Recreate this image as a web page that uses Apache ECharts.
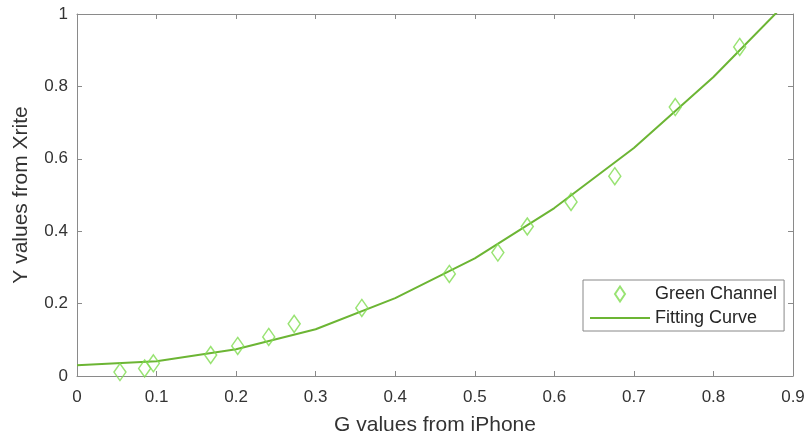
<!DOCTYPE html>
<html>
<head>
<meta charset="utf-8">
<script src="https://cdn.jsdelivr.net/npm/echarts@6/dist/echarts.min.js"></script>
<style>html,body{margin:0;padding:0;background:#fff}#c{width:810px;height:444px}</style>
</head>
<body>
<div id="c"></div>
<script>
const gValues = [0.054, 0.085, 0.096, 0.168, 0.202, 0.241, 0.273, 0.358, 0.468, 0.529, 0.566, 0.621, 0.676, 0.752, 0.833];
const yValues = [0.011, 0.021, 0.035, 0.058, 0.083, 0.108, 0.144, 0.188, 0.282, 0.341, 0.413, 0.481, 0.552, 0.743, 0.909];
const fitX = [0, 0.1, 0.2, 0.3, 0.4, 0.5, 0.6, 0.7, 0.8, 0.9];
const fitY = [0.030, 0.041, 0.074, 0.129, 0.215, 0.325, 0.464, 0.630, 0.826, 1.05];
const seriesNames = ['Green Channel', 'Fitting Curve'];
const xName = 'G values from iPhone';
const yName = 'Y values from Xrite';

const font = 'Liberation Sans, Arial, sans-serif';
const axisGray = '#8a8a8a';
const diamond = 'path://M5 0 L10 7.5 L5 15 L0 7.5 Z';
const lineIcon = 'path://M0 0 H60 V2 H0 Z';

const chart = echarts.init(document.getElementById('c'), null, {renderer: 'canvas'});
const frameAxis = {
  axisLine: {show: true, onZero: false, lineStyle: {color: axisGray, width: 1}},
  axisTick: {show: true, inside: true, length: 5, lineStyle: {color: axisGray}},
  splitLine: {show: false}
};
chart.setOption({
  animation: false,
  backgroundColor: '#fff',
  grid: {left: 77, right: 17, top: 14, bottom: 68, containLabel: false},
  xAxis: [Object.assign({
    type: 'value', min: 0, max: 0.9, interval: 0.1, position: 'bottom',
    name: xName, nameLocation: 'middle', nameGap: 39,
    nameTextStyle: {fontFamily: font, fontSize: 21, color: '#333'},
    axisLabel: {fontFamily: font, fontSize: 17, color: '#333', margin: 13}
  }, frameAxis), Object.assign({
    type: 'value', min: 0, max: 0.9, interval: 0.1, position: 'top',
    axisLabel: {show: false}
  }, frameAxis)],
  yAxis: [Object.assign({
    type: 'value', min: 0, max: 1, interval: 0.2, position: 'left',
    name: yName, nameLocation: 'middle', nameGap: 45,
    nameTextStyle: {fontFamily: font, fontSize: 21, color: '#333'},
    axisLabel: {fontFamily: font, fontSize: 17, color: '#333', margin: 9}
  }, frameAxis), Object.assign({
    type: 'value', min: 0, max: 1, interval: 0.2, position: 'right',
    axisLabel: {show: false}
  }, frameAxis)],
  legend: {
    left: 583, top: 280, orient: 'vertical',
    itemWidth: 60, itemHeight: 15, itemGap: 6,
    padding: [5, 7, 4, 7],
    borderColor: '#888', borderWidth: 1, backgroundColor: '#fff',
    symbolKeepAspect: true,
    textStyle: {fontFamily: font, fontSize: 18, color: '#262626'},
    data: [
      {name: seriesNames[0], icon: diamond},
      {name: seriesNames[1], icon: lineIcon}
    ]
  },
  series: [{
    name: seriesNames[0], type: 'scatter',
    symbol: diamond, symbolSize: [12, 17],
    itemStyle: {color: 'rgba(255,255,255,0)', borderColor: '#7fdc50', borderWidth: 1.5},
    data: gValues.map((g, i) => [g, yValues[i]]),
    z: 3
  }, {
    name: seriesNames[1], type: 'line',
    showSymbol: false, symbol: 'none', smooth: false, clip: true,
    lineStyle: {color: '#6cb534', width: 2},
    itemStyle: {color: '#6cb534'},
    data: fitX.map((x, i) => [x, fitY[i]]),
    z: 2
  }]
});
</script>
</body>
</html>
